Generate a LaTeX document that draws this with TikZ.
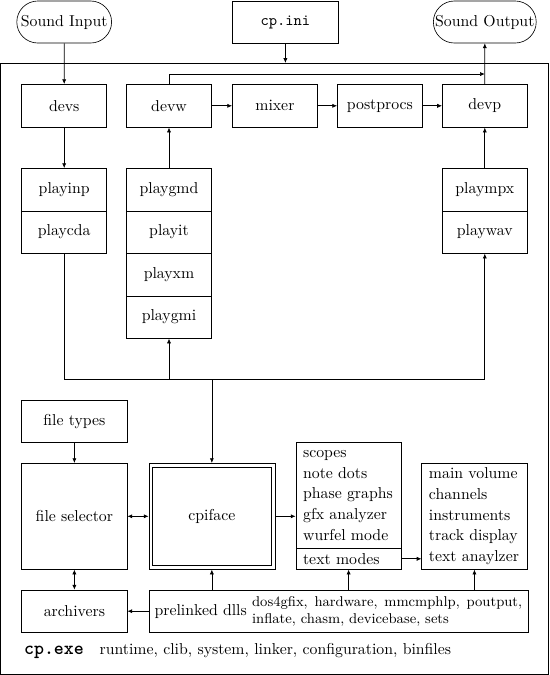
\documentclass[tikz,border=0pt]{standalone}
\usetikzlibrary{shapes.misc,arrows.meta}
\begin{document}
\begin{tikzpicture}[x=0.633pt,y=-0.633pt,
    >={Latex[length=3pt,width=2.6pt]},
    box/.style={draw, minimum width=53.8pt, minimum height=27.2pt, inner sep=2pt},
    cell/.style={draw, minimum width=53.8pt, minimum height=26.9pt, inner sep=2pt},
    wide/.style={draw, minimum width=66.7pt, minimum height=26.9pt, inner sep=2pt},
    ext/.style={draw, rounded rectangle, minimum height=26.6pt, inner xsep=0pt, inner ysep=2pt},
    listbox/.style={draw, text width=57.6pt, inner xsep=4.55pt, inner ysep=1pt, align=left,
        font=\fontsize{10}{13.1}\selectfont}]
  \useasboundingbox (0,0) rectangle (549,675);
  \node[draw, minimum width=346.6pt, minimum height=386.8pt, inner sep=0] (frame) at (274.35,368.8) {};

  % outside of cp.exe
  \node[ext, minimum width=60pt] (sndin) at (64.2,22) {Sound Input};
  \node[draw, minimum width=66.9pt, minimum height=26.6pt] (cpini) at (285.4,22) {\texttt{cp.ini}};
  \node[ext, minimum width=65.1pt] (sndout) at (484.8,22) {Sound Output};

  % devices
  \node[box] (devs) at (64.2,105.8) {devs};
  \node[box] (devw) at (169,105.8) {devw};
  \node[box] (mixer) at (274.9,105.8) {mixer};
  \node[box] (postprocs) at (379.9,105.8) {postprocs};
  \node[box] (devp) at (484.8,105.8) {devp};

  % players
  \node[cell] (playinp) at (64.2,189.6) {playinp};
  \node[cell] (playcda) at (64.2,232.1) {playcda};
  \node[cell] (playgmd) at (169,189.6) {playgmd};
  \node[cell] (playit) at (169,232.1) {playit};
  \node[cell] (playxm) at (169,274.6) {playxm};
  \node[cell] (playgmi) at (169,317.1) {playgmi};
  \node[cell] (plaympx) at (484.8,189.6) {plaympx};
  \node[cell] (playwav) at (484.8,232.1) {playwav};

  % interface
  \node[wide] (filetypes) at (74.4,421.3) {file types};
  \node[wide, minimum height=67.1pt] (filesel) at (74.4,516.3) {file selector};
  \node[draw, minimum width=79.8pt, minimum height=67.1pt] (cpiface) at (211.85,516.3) {cpiface};
  \draw ([shift={(4.2,4.2)}]cpiface.north west) rectangle ([shift={(-4.2,-4.2)}]cpiface.south east);
  \node[listbox, minimum height=67.1pt] (scopes) at (348.6,495.3)
    {scopes\\note dots\\phase graphs\\gfx analyzer\\wurfel mode};
  \node[listbox, minimum height=13.3pt, inner ysep=0pt] (textmodes) at (348.6,558.8) {text modes};
  \node[listbox, minimum height=67.1pt] (mainvol) at (474.45,516.3)
    {main volume\\channels\\instruments\\track display\\text anaylzer};
  \node[wide] (archivers) at (74.4,611.2) {archivers};
  \node[draw, minimum width=240pt, minimum height=26.8pt, inner sep=2pt] (prelinked) at (338.4,611.2)
    {prelinked dlls \parbox[c]{171pt}{\small dos4gfix, hardware, mmcmphlp, poutput,\linebreak
      inflate, chasm, devicebase, sets}};

  \node[anchor=west, inner sep=0] (binfiles) at (23.8,651)
    {{\large\ttfamily\bfseries cp.exe}\quad runtime, clib, system, linker, configuration, binfiles};

  % connections
  \coordinate (top) at (0,74);
  \coordinate (bus) at (0,379.3);
  \draw[->] (sndin) -- (devs);
  \draw[->] (cpini.south) -- (cpini.south |- frame.north);
  \draw[->] (devp) -- (sndout);
  \draw[->] (devw.north) |- (devp.north |- top);
  \draw[->] (devw) -- (mixer);
  \draw[->] (mixer) -- (postprocs);
  \draw[->] (postprocs) -- (devp);
  \draw[->] (devs) -- (playinp);
  \draw[->] (playgmd) -- (devw);
  \draw[->] (plaympx) -- (devp);
  \draw[->] (playcda.south) |- (playwav.south |- bus) -- (playwav.south);
  \draw[->] (playgmi.south |- bus) -- (playgmi.south);
  \draw[->] (cpiface.north |- bus) -- (cpiface.north);
  \draw[->] (filetypes) -- (filesel);
  \draw[<->] (filesel) -- (cpiface);
  \draw[->] (cpiface.east) -- (cpiface.east -| scopes.west);
  \draw[->] (textmodes) -- (textmodes -| mainvol.west);
  \draw[<->] (filesel) -- (archivers);
  \draw[->] (prelinked) -- (archivers);
  \draw[->] (cpiface.south |- prelinked.north) -- (cpiface.south);
  \draw[->] (textmodes.south |- prelinked.north) -- (textmodes.south);
  \draw[->] (mainvol.south |- prelinked.north) -- (mainvol.south);
\end{tikzpicture}
\end{document}
